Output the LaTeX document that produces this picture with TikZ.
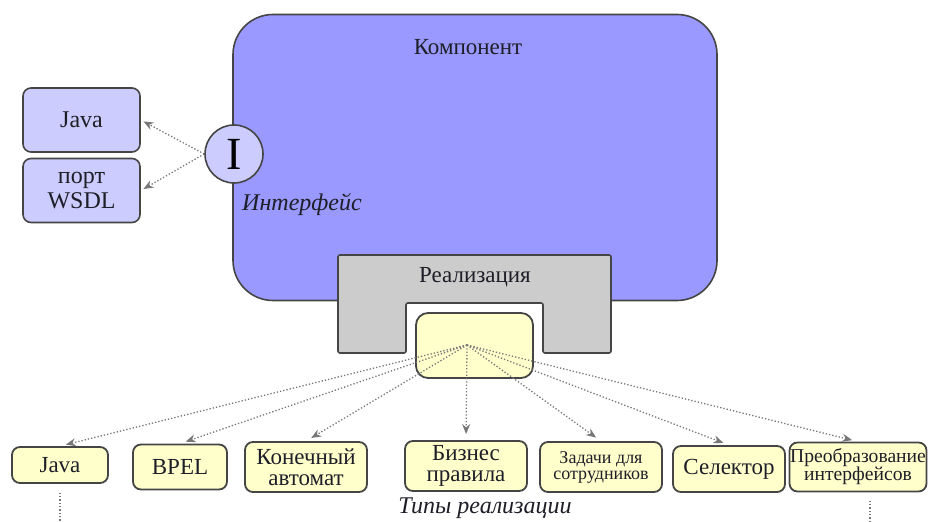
\documentclass[tikz,border=0pt]{standalone}
\usepackage{fontspec}
\setmainfont{Liberation Serif}
\usepackage{tikz}
\usetikzlibrary{arrows.meta, calc}
\definecolor{cmInk}{HTML}{1E1E28}
\definecolor{cmEdge}{HTML}{454545}
\definecolor{cmBlue}{HTML}{9999FF}
\definecolor{cmBlueT}{HTML}{CCCCFF}
\definecolor{cmGray}{HTML}{CCCCCC}
\definecolor{cmYellowT}{HTML}{FFFFCC}
\definecolor{cmArrow}{HTML}{777777}
\tikzset{
  port/.style ={draw=cmEdge, rounded corners=4pt, fill=cmBlueT, line width=0.8pt, align=center, inner sep=0pt, font=\fontsize{12}{12.5}\selectfont, text=cmInk, minimum width=58.5pt, minimum height=32pt},
  kind/.style ={draw=cmEdge, rounded corners=4pt, fill=cmYellowT, line width=0.9pt, align=center, inner sep=0pt, font=\fontsize{11.5}{10.5}\selectfont, text=cmInk},
  lbl/.style  ={inner sep=0pt, text=cmInk, font=\fontsize{11.5}{12}\selectfont},
  farr/.style ={-{Stealth[length=5pt,width=4pt]}, line width=0.65pt, cmArrow, densely dotted, shorten >=3pt},
  tail/.style ={line width=0.65pt, cmArrow, densely dotted},
}
\begin{document}
\begin{tikzpicture}[x=0.5pt,y=-0.5pt]
\useasboundingbox (0,0) rectangle (930,522);
% ---- component and its interface ----
\node[draw=cmEdge, fill=cmBlue, rounded corners=20pt, line width=0.8pt,
      minimum width=242pt, minimum height=143pt] (comp) at (475,157.5) {};
\node[lbl] (compLbl) at (468,47) {Компонент};
\node[port] (javaI) at (81.5,120) {Java};
\node[port] (wsdl)  at (81.5,190.5) {порт\\WSDL};
\node[circle, draw=cmEdge, fill=cmBlueT, line width=0.8pt, minimum size=29pt, inner sep=0pt,
      text=black, font=\fontsize{23}{23}\selectfont] (iface) at (234,154) {I};
\node[lbl, font=\fontsize{12}{12}\selectfont\itshape] (ifaceLbl) at (302,205) {Интерфейс};

\draw[farr, shorten >=1.5pt] (iface.west) -- (javaI.east);
\draw[farr, shorten >=1.5pt] (iface.west) -- (wsdl.east);

% ---- realization ----
\draw[draw=cmEdge, fill=cmGray, line width=0.8pt, rounded corners=1pt]
  (338,255) -- (611,255) -- (611,353) -- (543,353) -- (543,303)
  -- (406,303) -- (406,353) -- (338,353) -- cycle;
\node[lbl] (implLbl) at (475,277) {Реализация};
\node[kind, rounded corners=6pt, minimum width=58.5pt, minimum height=32.5pt] (impl) at (474.5,345.5) {};
\coordinate (hub) at (467,345);

% ---- kinds of realization ----
\node[kind, minimum width=48pt, minimum height=18pt] (javaK) at (60,465) {Java};
\node[kind, minimum width=47pt, minimum height=22.5pt] (bpel) at (180,467) {BPEL};
\node[kind, minimum width=61pt, minimum height=25pt] (fsm) at (306,467) {Конечный\\автомат};
\node[kind, minimum width=61pt, minimum height=25pt] (rules) at (466,466) {Бизнес\\правила};
\node[kind, minimum width=61pt, minimum height=25pt, font=\fontsize{9}{8}\selectfont] (tasks) at (601,467) {Задачи для\\сотрудников};
\node[kind, minimum width=56pt, minimum height=23pt] (sel) at (729,469) {Селектор};
\node[kind, minimum width=68.5pt, minimum height=24.5pt, font=\fontsize{9.8}{9}\selectfont] (conv) at (858,467) {Преобразование\\интерфейсов};
\node[lbl, font=\fontsize{12}{12}\selectfont\itshape] (kindsLbl) at (485,508) {Типы реализации};

\foreach \k in {javaK, bpel, fsm, rules, tasks, sel, conv}
  \draw[farr] (hub) -- (\k.north);

\draw[tail] ([yshift=-4.5pt]javaK.south) -- ++(0,30);
\draw[tail] ([yshift=-4.25pt,xshift=6pt]conv.south) -- ++(0,30);
\end{tikzpicture}
\end{document}
